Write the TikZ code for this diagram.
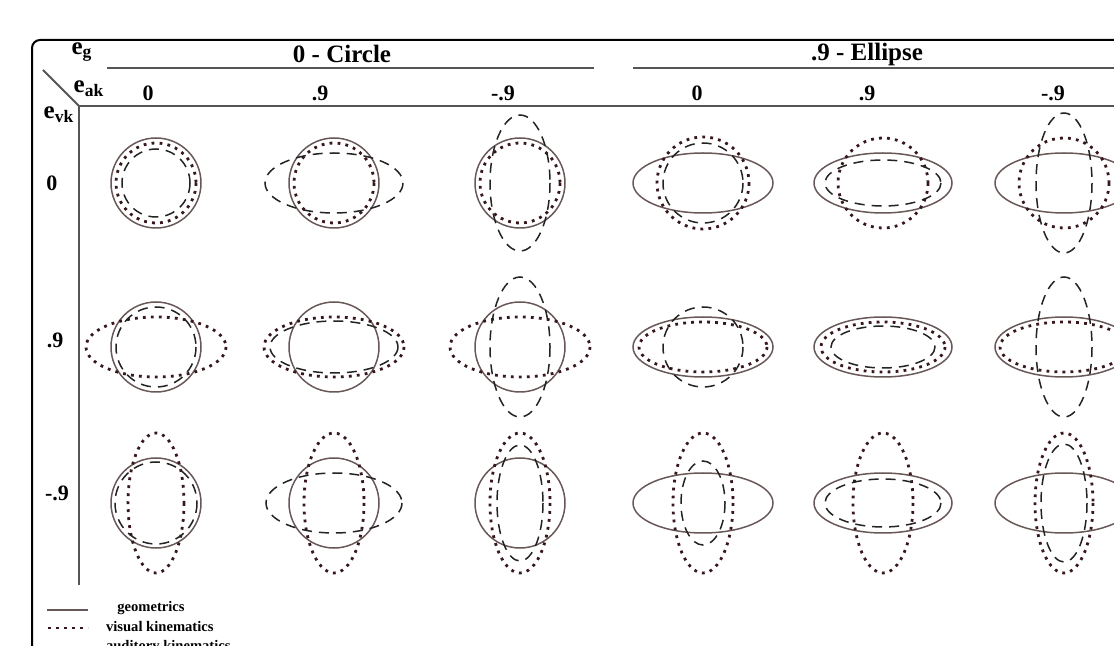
\documentclass[tikz,border=0pt]{standalone}
\usepackage{fontspec}
\setmainfont{Liberation Serif}
\usetikzlibrary{positioning}
\definecolor{geocol}{RGB}{105,88,88}
\definecolor{viscol}{RGB}{55,22,28}
\definecolor{audcol}{RGB}{35,35,35}
\definecolor{rulecol}{RGB}{85,85,85}

\begin{document}
\begin{tikzpicture}[x=0.5pt, y=-0.5pt,
    geo/.style={draw=geocol, line width=0.75pt},
    vis/.style={draw=viscol, line width=1.4pt, dash pattern=on 1.4pt off 2.6pt},
    aud/.style={draw=audcol, line width=0.75pt, dash pattern=on 5pt off 3.5pt},
    rule/.style={draw=rulecol, line width=1pt},
    head/.style={font=\fontsize{12.5}{14}\selectfont\bfseries},
    lab/.style={font=\fontsize{11}{13}\selectfont\bfseries},
    leg/.style={font=\fontsize{7.3}{8}\selectfont\bfseries}]
    \useasboundingbox (0,0) rectangle (1114,646);

    % --- frame and table rules ---
    \draw[line width=1pt, rounded corners=4pt] (32,700) -- (32,40) -- (1200,40);
    \draw[rule] (107,68) -- (594,68);
    \draw[rule] (633,68) -- (1200,68);
    \draw[rule] (79,106) -- (1200,106);
    \draw[rule] (79,106) -- (79,585);
    \draw[rule] (43,70) -- (79,106);

    % --- corner labels ---
    \node[head] (eg) at (82,52) {e\textsubscript{g}};
    \node[head] (eak) at (89,89) {e\textsubscript{ak}};
    \node[head] (evk) at (59,115) {e\textsubscript{vk}};

    % --- group and column headers ---
    \node[head] (circle) at (342,54) {0 - Circle};
    \node[head] (ellipse) at (867,54) {.9 - Ellipse};
    \foreach \x/\t [count=\i] in {148/0, 320/.9, 503/-.9, 697/0, 867/.9, 1053/-.9}
        \node[lab] (col\i) at (\x,93) {\t};

    % --- row headers ---
    \node[lab] (row1) at (52,183) {0};
    \node[lab] (row2) at (55,340) {.9};
    \node[lab] (row3) at (57,493) {-.9};

    % --- cells: centre / geometric radii / visual radii / auditory radii ---
    \foreach \cx/\cy/\ga/\gb/\va/\vb/\aa/\ab in {
        156/183/45/45/40/40/34/34, 334/183/45/45/40/40/69/30, 520/183/45/45/40/40/30/68,
        703/183/70/30/46/46/40/40, 883/183/69/30/45/45/58/23, 1064/183/69/30/45/45/28/70,
        156/347/45/45/70/30/40/40, 334/347/45/45/70/30/64/26, 520/347/45/45/70/30/30/70,
        703/347/70/30/64/25/40/40, 883/347/69/30/62/25/52/21, 1064/347/69/30/64/25/28/70,
        156/503/45/45/28/70/41/41, 334/503/45/45/30/70/68/30, 520/503/45/45/30/70/23/58,
        703/503/70/30/30/70/22/42, 883/503/69/30/30/70/58/24, 1064/503/69/30/29/70/23/59}
    {
        \draw[geo] (\cx,\cy) ellipse [x radius=\ga, y radius=\gb];
        \draw[vis] (\cx,\cy) ellipse [x radius=\va, y radius=\vb];
        \draw[aud] (\cx,\cy) ellipse [x radius=\aa, y radius=\ab];
    }

    % --- legend ---
    \draw[geo] (47,610) -- (88,610);
    \node[leg] (leggeo) at (151,608) {geometrics};
    \draw[vis] (48,628) -- (88,628);
    \node[leg, anchor=west] (legvis) at (99,627) {visual kinematics};
    \node[leg, anchor=west] (legaud) at (99,647) {auditory kinematics};
\end{tikzpicture}
\end{document}
